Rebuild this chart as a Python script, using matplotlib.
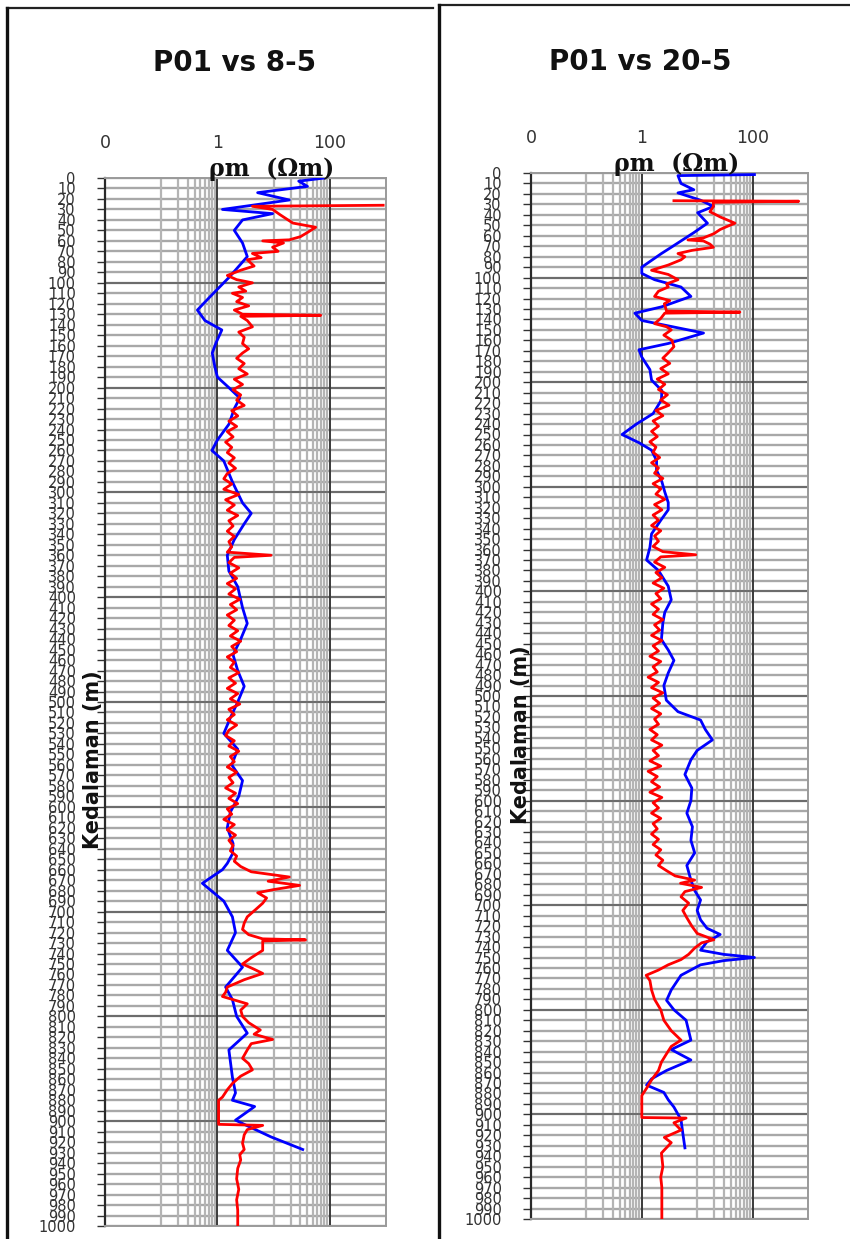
import numpy as np
import matplotlib
matplotlib.use("Agg")
import matplotlib.pyplot as plt
from matplotlib.lines import Line2D
from matplotlib.ticker import NullLocator

W, H = 850, 1239

titles = ["P01 vs 8-5", "P01 vs 20-5"]
x_tick_vals = [0.01, 1, 100]
x_tick_labels = ["0", "1", "100"]
depth_ticks = list(range(0, 1001, 10))

# panel 1 (P01 vs 8-5)
p1_blue_depth = [0, 3, 8, 14, 21, 30, 34, 40, 50, 62,
                 75, 95, 113, 126, 136, 145, 157, 167, 180, 190,
                 200, 210, 220, 235, 250, 260, 270, 290, 310, 320,
                 330, 345, 360, 375, 390, 410, 425, 440, 455, 470,
                 485, 500, 515, 530, 545, 560, 575, 590, 605, 620,
                 635, 645, 654, 660, 673, 690, 705, 720, 737, 753,
                 772, 784, 800, 816, 832, 858, 873, 880, 886, 899,
                 905, 915, 927]
p1_blue_res = [81, 28, 40, 5.2, 19, 1.23, 9.6, 2.8, 2.0, 2.8,
               3.4, 1.6, 0.75, 0.44, 0.6, 1.2, 0.95, 0.81, 0.9, 1.0,
               1.6, 2.5, 2.0, 1.6, 1.0, 0.8, 1.3, 1.85, 2.8, 4.0,
               3.0, 2.0, 1.5, 1.6, 2.3, 2.8, 3.4, 2.6, 1.9, 2.3,
               3.0, 2.3, 1.7, 1.3, 2.3, 1.8, 2.8, 2.4, 1.7, 1.5,
               1.9, 1.85, 1.5, 1.23, 0.54, 1.3, 1.85, 2.1, 1.5, 2.8,
               1.4, 1.85, 2.2, 3.4, 1.6, 1.85, 2.1, 1.85, 4.6, 2.1,
               3.6, 9.0, 33]

p1_red_depth = [26, 27, 30, 35, 43, 47, 52, 56, 59, 60,
                62, 66, 70, 72, 76, 78, 84, 88, 93, 97,
                100, 104, 108, 110, 114, 118, 122, 126, 130, 131,
                132, 136, 142, 147, 152, 158, 163, 167, 172, 177,
                182, 187, 192, 197, 202, 207, 212, 217, 222, 227,
                232, 237, 242, 247, 252, 257, 262, 267, 272, 277,
                282, 287, 292, 297, 302, 307, 312, 317, 322, 327,
                332, 337, 342, 347, 352, 357, 360, 362, 367, 372,
                377, 382, 387, 392, 397, 402, 407, 412, 417, 422,
                427, 432, 437, 442, 447, 452, 457, 462, 467, 472,
                477, 482, 487, 492, 497, 502, 507, 512, 517, 522,
                527, 532, 537, 542, 547, 552, 557, 562, 567, 572,
                577, 582, 587, 592, 597, 602, 607, 612, 617, 622,
                627, 632, 637, 642, 647, 652, 657, 662, 667, 671,
                675, 679, 682, 687, 692, 698, 705, 711, 717, 722,
                726, 727, 728, 737, 744, 750, 755, 759, 765, 772,
                777, 781, 788, 794, 800, 806, 813, 817, 822, 826,
                832, 840, 845, 851, 857, 864, 870, 877, 880, 903,
                904, 908, 913, 921, 927, 932, 937, 945, 955, 965,
                975, 985, 1000]
p1_red_res = [890, 4.2, 9.6, 13, 22, 56, 40, 30, 19, 6.4,
              15, 9.6, 12, 4.2, 6.0, 3.4, 4.5, 2.6, 1.5, 2.2,
              4.2, 2.4, 3.2, 1.85, 2.8, 2.2, 3.6, 2.0, 2.8, 69,
              2.6, 3.4, 4.2, 2.4, 3.0, 2.8, 3.6, 2.8, 2.2, 3.0,
              2.4, 3.4, 2.0, 2.8, 1.9, 2.6, 2.2, 3.0, 1.8, 2.3,
              1.6, 2.2, 1.5, 1.9, 1.4, 1.8, 1.5, 2.0, 1.6, 2.1,
              1.5, 1.3, 1.8, 1.3, 2.4, 1.4, 2.0, 1.5, 2.3, 1.6,
              1.9, 1.5, 2.0, 1.6, 1.8, 1.5, 9.0, 2.0, 1.6, 2.4,
              1.7, 2.2, 1.5, 2.1, 1.6, 2.5, 1.7, 2.2, 1.5, 2.0,
              1.6, 2.3, 1.7, 2.6, 1.8, 2.2, 1.5, 2.0, 1.7, 2.4,
              1.6, 2.1, 1.5, 2.3, 1.7, 2.5, 1.6, 2.0, 1.5, 2.2,
              1.6, 1.4, 2.0, 1.6, 2.4, 1.7, 2.0, 1.5, 2.2, 1.6,
              1.9, 1.4, 2.1, 1.6, 2.3, 1.5, 1.8, 1.3, 2.0, 1.5,
              2.1, 1.6, 1.9, 1.7, 2.2, 2.0, 2.6, 4.0, 19, 8.0,
              29, 10, 5.2, 7.5, 6.4, 4.8, 3.4, 3.0, 2.8, 3.6,
              6.4, 37, 6.4, 6.4, 4.0, 2.8, 4.5, 6.4, 3.0, 1.5,
              1.4, 1.23, 3.4, 2.6, 2.8, 3.6, 5.8, 4.5, 9.6, 4.0,
              3.4, 2.8, 3.6, 4.2, 2.6, 1.85, 1.5, 1.23, 1.05, 1.05,
              6.4, 3.4, 3.0, 2.8, 3.0, 2.5, 2.6, 2.3, 2.2, 2.4,
              2.2, 2.3, 2.3]

# panel 2 (P01 vs 20-5)
p2_blue_depth = [1.5, 2.5, 10, 16, 19, 26, 32, 38, 48, 57,
                 71, 77, 90, 96, 102, 109, 118, 128, 134, 141,
                 153, 163, 169, 176, 188, 198, 208, 217, 230, 240,
                 250, 258, 265, 275, 284, 295, 305, 315, 322, 332,
                 345, 358, 370, 380, 395, 408, 420, 430, 446, 456,
                 466, 478, 490, 504, 515, 523, 532, 542, 552, 561,
                 575, 588, 600, 612, 625, 638, 650, 662, 676, 686,
                 695, 705, 714, 722, 728, 735, 743, 747, 750, 753,
                 757, 767, 781, 791, 800, 810, 820, 829, 838, 848,
                 858, 866, 872, 879, 886, 893, 905, 918, 932]
p2_blue_res = [108, 4.5, 5.1, 8.7, 4.5, 11.5, 19.6, 10.2, 15.3, 8.7,
               3.4, 2.26, 1.0, 1.0, 1.7, 5.1, 7.7, 2.26, 0.75, 1.0,
               13, 3.0, 0.89, 1.0, 1.4, 1.5, 2.3, 2.26, 1.6, 0.8,
               0.44, 0.9, 1.5, 1.85, 1.84, 2.3, 2.6, 3.0, 3.0, 2.2,
               1.5, 1.4, 1.22, 2.0, 3.0, 3.4, 2.6, 2.4, 2.26, 3.0,
               3.8, 3.0, 2.5, 2.77, 4.5, 11.5, 14, 18.8, 10, 7.7,
               6.0, 8.0, 7.7, 6.5, 8.2, 7.7, 9.0, 6.5, 7.7, 9.0,
               11.5, 10, 11.5, 15, 26, 15, 11.5, 30, 108, 30,
               11.5, 5.1, 3.4, 2.8, 3.8, 6.3, 7.0, 7.7, 3.4, 7.7,
               2.8, 1.5, 1.22, 2.5, 3.0, 3.8, 5.1, 5.5, 6.0]

p2_red_depth = [26.5, 27, 28, 32, 37, 42, 48, 51, 54, 58,
                62, 64, 65, 68, 71, 74, 77, 80, 83, 88,
                93, 97, 102, 106, 109, 113, 118, 122, 125, 132,
                133, 134, 139, 144, 147, 150, 155, 160, 166, 172,
                177, 182, 187, 192, 197, 202, 207, 212, 217, 222,
                227, 232, 237, 242, 247, 252, 257, 262, 267, 272,
                277, 282, 287, 292, 297, 302, 307, 312, 317, 322,
                327, 332, 337, 342, 347, 352, 357, 362, 365, 367,
                372, 377, 382, 387, 392, 397, 402, 407, 412, 417,
                422, 427, 432, 437, 442, 447, 452, 457, 462, 467,
                472, 477, 482, 487, 492, 497, 502, 507, 512, 517,
                522, 527, 532, 537, 542, 547, 552, 557, 562, 567,
                572, 577, 582, 587, 592, 597, 602, 607, 612, 617,
                622, 627, 632, 637, 642, 647, 652, 657, 662, 667,
                672, 676, 679, 683, 687, 692, 698, 705, 712, 720,
                727, 733, 736, 741, 747, 752, 757, 762, 767, 772,
                781, 790, 800, 810, 820, 829, 835, 842, 850, 858,
                867, 875, 882, 903, 903.5, 908, 915, 922, 927, 937,
                950, 960, 970, 985, 1000]
p2_red_res = [3.8, 680, 19.6, 19.6, 17, 26, 48, 35, 26, 20,
              13, 6.8, 13, 17, 19.6, 8.0, 4.5, 6.0, 5.1, 3.0,
              1.5, 3.0, 4.5, 2.8, 3.0, 2.0, 1.7, 3.2, 2.55, 2.8,
              59, 2.6, 2.2, 1.7, 2.8, 3.4, 2.5, 3.5, 3.8, 3.0,
              2.4, 3.2, 2.2, 3.0, 1.9, 2.6, 2.0, 2.9, 2.2, 3.1,
              1.8, 2.4, 1.6, 2.0, 1.5, 1.9, 1.4, 1.8, 1.6, 2.1,
              1.5, 2.0, 1.7, 2.4, 1.6, 2.2, 1.8, 2.6, 1.7, 2.3,
              1.6, 2.0, 1.5, 2.2, 1.7, 2.0, 1.6, 2.4, 9.4, 2.2,
              1.7, 2.6, 1.8, 2.3, 1.6, 2.5, 1.8, 2.2, 1.5, 2.0,
              1.6, 2.4, 1.7, 2.1, 1.5, 2.3, 1.6, 2.0, 1.4, 2.2,
              1.6, 1.9, 1.3, 2.0, 1.5, 2.4, 1.6, 2.1, 1.5, 2.2,
              1.7, 2.0, 1.4, 1.9, 1.5, 2.3, 1.6, 2.0, 1.4, 2.2,
              1.3, 1.9, 1.5, 2.1, 1.4, 2.3, 1.6, 2.0, 1.5, 2.2,
              1.6, 1.9, 1.5, 2.0, 1.6, 2.2, 1.8, 2.4, 2.0, 2.8,
              4.0, 9.0, 5.0, 12, 6.0, 5.1, 7.0, 5.5, 6.5, 8.0,
              10, 20, 12, 9.0, 7.0, 5.1, 3.0, 2.0, 1.2, 1.4,
              1.5, 1.7, 2.2, 2.5, 3.4, 5.1, 3.4, 2.8, 2.26, 2.0,
              1.5, 1.22, 1.0, 1.0, 6.3, 3.8, 5.1, 2.55, 3.4, 2.26,
              2.4, 2.2, 2.3, 2.3, 2.3]


def fig_xy(x, y):
    return x / W, 1 - y / H


def draw_panel(ax, blue_d, blue_r, red_d, red_r):
    ax.set_xscale("log")
    ax.set_xlim(0.01, 1000)
    ax.set_ylim(1000, 0)

    # vertical grid, only the 0.1-1 and 10-100 decades carry minor lines
    for base in [0.1, 10]:
        for k in range(1, 10):
            ax.axvline(base * k, color="#b4b4b4", lw=1.6, zorder=1)
    for v in [1, 100]:
        ax.axvline(v, color="#3a3a3a", lw=1.4, zorder=2)

    ax.set_yticks(depth_ticks)
    ax.set_yticklabels([str(d) for d in depth_ticks])
    ax.grid(axis="y", color="#a8a8a8", lw=1.7, zorder=1)
    for d in range(100, 1000, 100):
        ax.axhline(d, color="#5a5a5a", lw=1.1, zorder=1)
    ax.set_axisbelow(True)

    ax.plot(blue_r, blue_d, color="#0000ff", lw=2.0, zorder=3)
    ax.plot(red_r, red_d, color="#ff0000", lw=2.0, zorder=4)

    ax.xaxis.tick_top()
    ax.set_xticks(x_tick_vals)
    ax.set_xticklabels(x_tick_labels)
    ax.xaxis.set_minor_locator(NullLocator())
    ax.tick_params(axis="x", length=0, pad=19, labelsize=12.5, labelcolor="#333333")
    ax.tick_params(axis="y", length=6, width=1.0, color="#333333", pad=15,
                   labelsize=10.5, labelcolor="#333333")
    for side in ["top", "bottom", "right"]:
        ax.spines[side].set_color("#9a9a9a")
        ax.spines[side].set_linewidth(1.4)
    ax.spines["left"].set_color("#2a2a2a")
    ax.spines["left"].set_linewidth(1.6)


fig = plt.figure(figsize=(W / 100, H / 100), dpi=100)

# frames of the two screenshots
for (x0, y0, x1) in [(7, 8, 433), (439, 5, 850)]:
    fx0, fy0 = fig_xy(x0, y0)
    fx1, _ = fig_xy(x1, y0)
    fig.add_artist(Line2D([fx0, fx1], [fy0, fy0], color="#222222", lw=1.6))
    fig.add_artist(Line2D([fx0, fx0], [fy0, 0], color="#111111", lw=2.4))

# axes boxes in pixels: left, top, right, bottom
boxes = [(105, 178, 386, 1226), (531, 173, 808, 1219)]
title_pos = [(235, 63), (640, 62)]
unit_pos = [(272, 169), (677, 164)]
ylabel_pos = [(93, 760), (521, 735)]
series = [(p1_blue_depth, p1_blue_res, p1_red_depth, p1_red_res),
          (p2_blue_depth, p2_blue_res, p2_red_depth, p2_red_res)]

for i in range(2):
    l, t, r, b = boxes[i]
    fl, fb = fig_xy(l, b)
    ax = fig.add_axes([fl, fb, (r - l) / W, (b - t) / H])
    draw_panel(ax, *series[i])

    tx, ty = fig_xy(*title_pos[i])
    fig.text(tx, ty, titles[i], ha="center", va="center", fontsize=20,
             fontweight="bold", family="DejaVu Sans", color="#111111")
    ux, uy = fig_xy(*unit_pos[i])
    fig.text(ux, uy, "ρm  (Ωm)", ha="center", va="center", fontsize=17,
             fontweight="bold", family="DejaVu Serif", color="#111111")
    lx, ly = fig_xy(*ylabel_pos[i])
    fig.text(lx, ly, "Kedalaman (m)", ha="center", va="center", rotation=90,
             fontsize=15, fontweight="bold", family="DejaVu Sans", color="#111111")

fig.savefig("out.png", dpi=100)
